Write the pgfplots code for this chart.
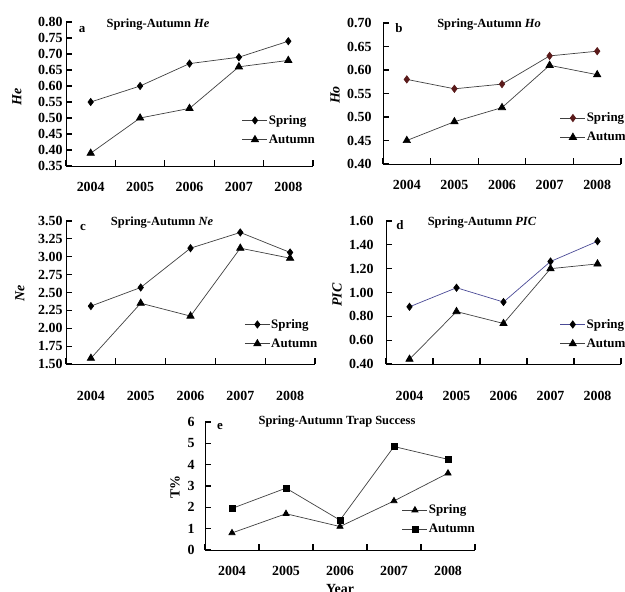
\documentclass[border=0pt]{standalone}
\usepackage{pgfplots}
\pgfplotsset{compat=1.18}
\usepackage{fontspec}
\setmainfont{Liberation Serif}
\definecolor{ln}{HTML}{404040}
\definecolor{dred}{HTML}{5A1A1A}
\definecolor{dblue}{HTML}{4A4A96}
\newcommand{\tf}{\fontsize{14}{16}\selectfont\bfseries}
\newcommand{\ttl}{\fontsize{12.5}{14}\selectfont\bfseries}
\newcommand{\lf}{\fontsize{13}{15}\selectfont\bfseries}
\pgfplotsset{
  panel/.style={
    scale only axis, anchor=south west,
    xmin=-0.5, xmax=4.5,
    xtick={-0.5,0.5,1.5,2.5,3.5,4.5},
    xticklabels={,,,,,},
    extra x ticks={0,1,2,3,4},
    extra x tick labels={2004,2005,2006,2007,2008},
    extra x tick style={major tick length=0pt, xticklabel style={yshift=-13bp}},
    axis x line*=bottom, axis y line*=left,
    axis line style={-, black, line width=0.9bp},
    xtick align=inside, ytick align=inside,
    major tick length=6bp,
    major tick style={black, line width=1.1bp},
    /pgf/number format/assume math mode=true,
    ticklabel style={font=\tf},
    legend style={draw=none, fill=none, inner sep=0pt, outer sep=0pt,
      anchor=north west, row sep=7bp, font=\lf,
      nodes={inner sep=1bp}},
    legend cell align=left,
    legend image code/.code={
      \draw[mark repeat=2,mark phase=2,##1] plot coordinates {(0bp,0bp) (12.5bp,0bp) (25bp,0bp)};
    },
  },
  sp/.style={color=ln, line width=0.7bp, mark=diamond*, mark size=3.6bp, mark options={black, solid}},
  au/.style={color=ln, line width=0.7bp, mark=triangle*, mark size=4.2bp, mark options={black, solid}},
  sq/.style={color=ln, line width=0.7bp, mark=square*, mark size=3bp, mark options={black, solid}},
}
\begin{document}
\begin{tikzpicture}
% ---- a ----
\begin{axis}[panel, at={(66bp,-166bp)}, width=247bp, height=144bp,
  ymin=0.35, ymax=0.80,
  ytick={0.35,0.40,0.45,0.50,0.55,0.60,0.65,0.70,0.75,0.80},
  yticklabels={0.35,0.40,0.45,0.50,0.55,0.60,0.65,0.70,0.75,0.80},
  legend style={at={(0.713,0.36)}}]
\addplot[sp] coordinates {(0,0.55) (1,0.60) (2,0.67) (3,0.69) (4,0.74)};
\addplot[au] coordinates {(0,0.39) (1,0.50) (2,0.53) (3,0.66) (4,0.68)};
\legend{Spring,Autumn}
\end{axis}
% ---- b ----
\begin{axis}[panel, at={(383bp,-164bp)}, width=238bp, height=141bp,
  ymin=0.40, ymax=0.70,
  ytick={0.40,0.45,0.50,0.55,0.60,0.65,0.70},
  yticklabels={0.40,0.45,0.50,0.55,0.60,0.65,0.70},
  yticklabel style={xshift=-8bp},
  legend style={at={(0.744,0.37)}}]
\addplot[sp, mark options={dred, solid}] coordinates {(0,0.58) (1,0.56) (2,0.57) (3,0.63) (4,0.64)};
\addplot[au] coordinates {(0,0.45) (1,0.49) (2,0.52) (3,0.61) (4,0.59)};
\legend{Spring,Autumn}
\end{axis}
% ---- c ----
\begin{axis}[panel, at={(66bp,-364bp)}, width=249bp, height=143bp,
  ymin=1.5, ymax=3.5,
  ytick={1.50,1.75,2.00,2.25,2.50,2.75,3.00,3.25,3.50},
  yticklabels={1.50,1.75,2.00,2.25,2.50,2.75,3.00,3.25,3.50},
  extra x tick style={major tick length=0pt, xticklabel style={yshift=-11bp}},
  legend style={at={(0.717,0.32)}}]
\addplot[sp] coordinates {(0,2.31) (1,2.57) (2,3.12) (3,3.34) (4,3.06)};
\addplot[au] coordinates {(0,1.58) (1,2.35) (2,2.17) (3,3.12) (4,2.98)};
\legend{Spring,Autumn}
\end{axis}
% ---- d ----
\begin{axis}[panel, at={(386bp,-364bp)}, width=235bp, height=143bp,
  ymin=0.4, ymax=1.6,
  ytick={0.40,0.60,0.80,1.00,1.20,1.40,1.60},
  yticklabels={0.40,0.60,0.80,1.00,1.20,1.40,1.60},
  yticklabel style={xshift=-9bp},
  extra x tick style={major tick length=0pt, xticklabel style={yshift=-11bp}},
  legend style={at={(0.74,0.32)}}]
\addplot[sp, color=dblue] coordinates {(0,0.88) (1,1.04) (2,0.92) (3,1.26) (4,1.43)};
\addplot[au] coordinates {(0,0.44) (1,0.84) (2,0.74) (3,1.20) (4,1.24)};
\legend{Spring,Autumn}
\end{axis}
% ---- e ----
\begin{axis}[panel, at={(205bp,-550bp)}, width=270bp, height=128bp,
  ymin=0, ymax=6,
  ytick={0,1,2,3,4,5,6},
  yticklabels={0,1,2,3,4,5,6},
  yticklabel style={xshift=-7bp},
  legend style={at={(0.73,0.36)}}]
\addplot[au, mark size=3.6bp] coordinates {(0,0.8) (1,1.7) (2,1.1) (3,2.3) (4,3.6)};
\addplot[sq] coordinates {(0,1.95) (1,2.9) (2,1.4) (3,4.85) (4,4.25)};
\legend{Spring,Autumn}
\end{axis}
% titles, letters, labels
\node[font=\ttl] at (158bp,-25bp) {Spring-Autumn \textit{He}};
\node[font=\ttl] at (489bp,-25bp) {Spring-Autumn \textit{Ho}};
\node[font=\ttl] at (162bp,-223bp) {Spring-Autumn \textit{Ne}};
\node[font=\ttl] at (482bp,-223bp) {Spring-Autumn \textit{PIC}};
\node[font=\ttl] at (337bp,-422bp) {Spring-Autumn Trap Success};
\node[font=\lf] at (82bp,-30bp) {a};
\node[font=\lf] at (399bp,-28bp) {b};
\node[font=\lf] at (83bp,-228bp) {c};
\node[font=\lf] at (400bp,-225bp) {d};
\node[font=\lf] at (220bp,-427bp) {e};
\node[font=\tf, rotate=90] at (17bp,-97bp) {\textit{He}};
\node[font=\tf, rotate=90] at (335bp,-95bp) {\textit{Ho}};
\node[font=\tf, rotate=90] at (20bp,-293bp) {\textit{Ne}};
\node[font=\tf, rotate=90] at (337bp,-295bp) {\textit{PIC}};
\node[font=\tf, rotate=90] at (175bp,-487bp) {T\%};
\node[font=\tf] at (340bp,-589bp) {Year};
\pgfresetboundingbox
\useasboundingbox (0,0) rectangle (625bp,-592bp);
\end{tikzpicture}
\end{document}
